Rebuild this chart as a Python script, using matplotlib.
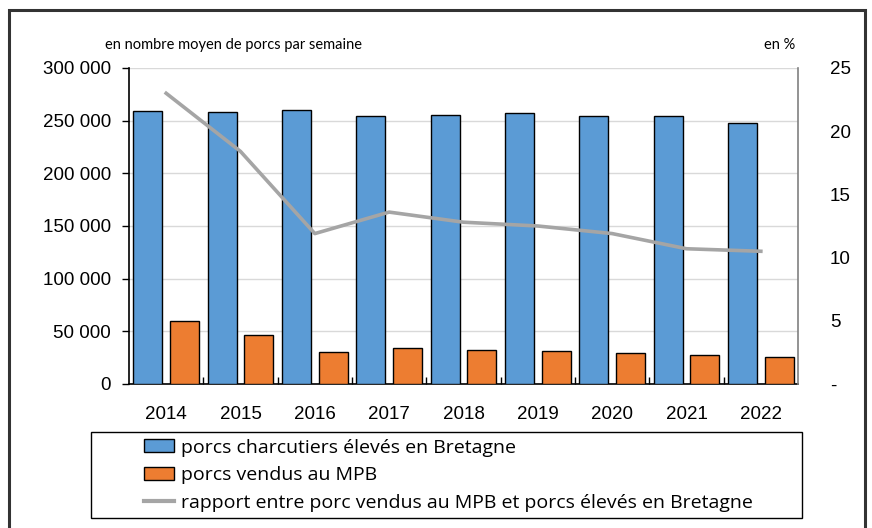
import matplotlib.pyplot as plt
from matplotlib.patches import Patch, Rectangle
from matplotlib.lines import Line2D
from matplotlib.ticker import FuncFormatter

# Données
annees = ["2014", "2015", "2016", "2017", "2018", "2019", "2020", "2021", "2022"]
porcs_eleves = [259500, 258200, 260400, 254700, 255700, 256900, 254100, 254700, 247800]
porcs_mpb = [59500, 46500, 30700, 34500, 32300, 31700, 29800, 27300, 26000]
rapport = [23.0, 18.4, 11.9, 13.6, 12.8, 12.5, 11.9, 10.7, 10.5]

bleu = "#5B9BD5"
orange = "#ED7D31"
gris = "#A5A5A5"

plt.rcParams['font.family'] = ['Liberation Sans', 'DejaVu Sans']

fig = plt.figure(figsize=(8.72, 5.28), dpi=100)
ax = fig.add_axes([129 / 872, 1 - 384 / 528, (798 - 129) / 872, (384 - 68) / 528])

x = list(range(len(annees)))
larg = 0.39
ax.bar([i - 0.245 for i in x], porcs_eleves, width=larg, color=bleu, edgecolor="black", linewidth=1, zorder=3)
ax.bar([i + 0.245 for i in x], porcs_mpb, width=larg, color=orange, edgecolor="black", linewidth=1, zorder=3)

ax.set_xlim(-0.5, len(annees) - 0.5)
ax.set_ylim(0, 300000)
ax.set_yticks(range(0, 300001, 50000))
ax.yaxis.set_major_formatter(FuncFormatter(lambda v, p: f"{int(v):,}".replace(",", " ")))
ax.grid(axis="y", color="#D9D9D9", linewidth=1, zorder=0)
ax.set_xticks(x)
ax.set_xticklabels(annees)
ax.set_xticks([i + 0.5 for i in x[:-1]], minor=True)
ax.tick_params(axis="x", which="major", length=0, pad=16, labelsize=13.5)
ax.tick_params(axis="x", which="minor", direction="in", length=5, width=1)
ax.tick_params(axis="y", length=5, width=1, pad=8, labelsize=13.5)
ax.spines["top"].set_visible(False)
ax.spines["right"].set_visible(False)
ax.spines["left"].set_linewidth(1.2)
ax.spines["bottom"].set_linewidth(1.2)

ax2 = ax.twinx()
ax2.plot(x, rapport, color=gris, linewidth=2.6, zorder=4)
ax2.set_ylim(0, 25)
ax2.set_yticks(range(0, 26, 5))
ax2.yaxis.set_major_formatter(FuncFormatter(lambda v, p: "-" if v == 0 else f"{int(v)}"))
ax2.tick_params(axis="y", length=0, pad=23, labelsize=13.5)
ax2.spines["top"].set_visible(False)
ax2.spines["left"].set_visible(False)
ax2.spines["bottom"].set_visible(False)
ax2.spines["right"].set_color("#808080")
ax2.spines["right"].set_linewidth(1.2)

fig.text(105 / 872, 1 - 45 / 528, "en nombre moyen de porcs par semaine", fontsize=10.5,
         family=["Lato", "DejaVu Sans"], va="center", ha="left")
fig.text(795 / 872, 1 - 45 / 528, "en %", fontsize=10.5, family=["Lato", "DejaVu Sans"],
         va="center", ha="right")

# Légende
handles = [
    Patch(facecolor=bleu, edgecolor="black", linewidth=1),
    Patch(facecolor=orange, edgecolor="black", linewidth=1),
    Line2D([0], [0], color=gris, linewidth=3),
]
labels = [
    "porcs charcutiers élevés en Bretagne",
    "porcs vendus au MPB",
    "rapport entre porc vendus au MPB et porcs élevés en Bretagne",
]
fig.legend(handles, labels, loc="upper left", bbox_to_anchor=(130 / 872, 1 - 425 / 528),
           frameon=False, prop={"family": ["Open Sans", "DejaVu Sans"], "size": 14},
           handlelength=1.55, handleheight=0.62, handletextpad=0.35, labelspacing=0.5,
           borderpad=0.2)
fig.add_artist(Rectangle((91 / 872, 1 - 518 / 528), (802 - 91) / 872, (518 - 432) / 528,
                         transform=fig.transFigure, fill=False, edgecolor="black", linewidth=1))

# Cadre extérieur
fig.add_artist(Rectangle((9 / 872, -0.05), (865 - 9) / 872, 1.05 - 10 / 528,
                         transform=fig.transFigure, fill=False, edgecolor="#333333",
                         linewidth=2.2, clip_on=False))

fig.savefig("out.png", dpi=100)
